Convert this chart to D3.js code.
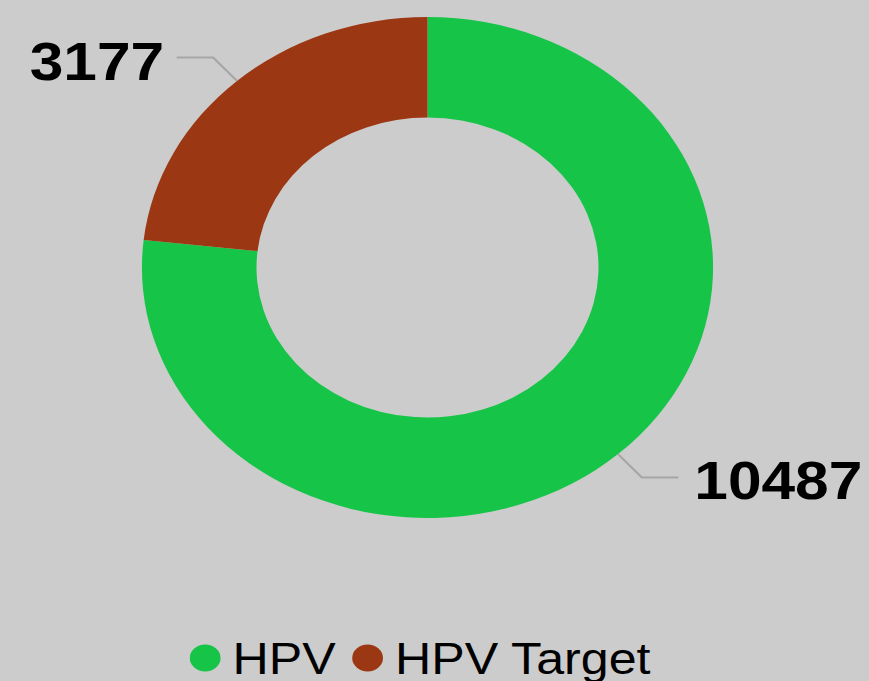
<!DOCTYPE html>
<html>
<head>
<meta charset="utf-8">
<script src="https://cdn.jsdelivr.net/npm/d3@7"></script>
<style>
  html, body { margin: 0; padding: 0; background: #cccccc; }
  svg { display: block; }
</style>
</head>
<body>
<svg id="chart" width="869" height="681"></svg>
<script>
// Data
const categories = ["HPV", "HPV Target"];
const values = [10487, 3177];
const colors = ["#16c548", "#9c3713"];

const W = 869, H = 681;
const stretchX = 1.14;          // horizontal stretch of the whole drawing
const cx = 427.5 / stretchX, cy = 267.5;
const outerR = 250.5, innerR = 150;

const svg = d3.select("#chart");
svg.append("rect").attr("width", W).attr("height", H).attr("fill", "#cccccc");

const g = svg.append("g").attr("transform", `scale(${stretchX},1)`);

const data = categories.map((c, i) => ({ name: c, value: values[i], color: colors[i] }));

const pie = d3.pie().value(d => d.value).sort(null);
const arcs = pie(data);

const arc = d3.arc().innerRadius(innerR).outerRadius(outerR);

const donut = g.append("g").attr("transform", `translate(${cx},${cy})`);
donut.selectAll("path.slice")
  .data(arcs)
  .join("path")
  .attr("class", "slice")
  .attr("d", arc)
  .attr("fill", d => d.data.color);

// Leader lines and value labels
const elbowR = outerR * 1.125;
const hLen = 32;
arcs.forEach(a => {
  const mid = (a.startAngle + a.endAngle) / 2;
  const sx = Math.sin(mid), sy = -Math.cos(mid);
  const right = sx > 0;
  const p0 = [outerR * sx, outerR * sy];
  const p1 = [elbowR * sx, elbowR * sy];
  const p2 = [p1[0] + (right ? hLen : -hLen), p1[1]];
  donut.append("polyline")
    .attr("points", [p0, p1, p2].map(p => p.join(",")).join(" "))
    .attr("fill", "none")
    .attr("stroke", "#a6a6a6")
    .attr("stroke-width", 2);
  donut.append("text")
    .attr("x", p2[0] + (right ? 14 : -11))
    .attr("y", p2[1] + 22)
    .attr("text-anchor", right ? "start" : "end")
    .attr("font-family", "'Liberation Sans', Arial, sans-serif")
    .attr("font-weight", "bold")
    .attr("font-size", 53)
    .attr("fill", "#000")
    .text(a.data.value);
});

// Legend
const legend = g.append("g").attr("transform", `translate(180, 658)`);
const legendFont = 44;
const markerR = 13.5, textGap = 24, spacing = 28;
let x0 = 0;
data.forEach(d => {
  const item = legend.append("g").attr("transform", `translate(${x0},0)`);
  item.append("circle").attr("cx", 0).attr("cy", 0).attr("r", markerR).attr("fill", d.color);
  const t = item.append("text")
    .attr("x", textGap)
    .attr("y", 16)
    .attr("font-family", "'Liberation Sans', Arial, sans-serif")
    .attr("font-size", legendFont)
    .attr("fill", "#000")
    .text(d.name);
  x0 += textGap + t.node().getComputedTextLength() + spacing;
});
</script>
</body>
</html>
